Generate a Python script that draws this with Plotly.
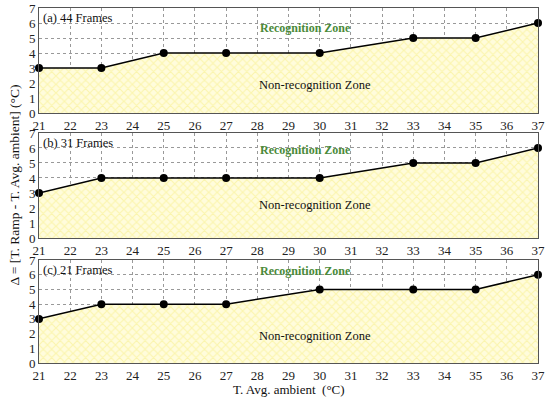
import plotly.graph_objects as go

x_vals = [21, 23, 25, 27, 30, 33, 35, 37]
delta_a = [3, 3, 4, 4, 4, 5, 5, 6]
delta_b = [3, 4, 4, 4, 4, 5, 5, 6]
delta_c = [3, 4, 4, 4, 5, 5, 5, 6]
panel_titles = ["(a) 44 Frames", "(b) 31 Frames", "(c) 21 Frames"]
x_ticks = list(range(21, 38))
y_ticks = list(range(0, 8))
rec_y = [5.65, 5.85, 6.25]
non_y = [1.9, 2.2, 1.85]

series = [delta_a, delta_b, delta_c]
# plot area: pixels 8..363 (355 px)
domains = [[0.704, 1.0], [0.352, 0.648], [0.0, 0.290]]

FONT = "Liberation Serif"
fig = go.Figure()
for i, ys in enumerate(series):
    xa = "x" if i == 0 else f"x{i+1}"
    ya = "y" if i == 0 else f"y{i+1}"
    fig.add_trace(go.Scatter(
        x=x_vals, y=ys, xaxis=xa, yaxis=ya, mode="lines+markers",
        line=dict(color="black", width=1.5),
        marker=dict(color="black", size=8),
        fill="tozeroy", fillcolor="#fffbd2",
        fillpattern=dict(shape="x", fgcolor="#f6ee80", bgcolor="#fffcdc", size=6, solidity=0.35),
        showlegend=False, hoverinfo="skip", cliponaxis=False))
    common_ax = dict(showline=True, linecolor="#555", linewidth=1, mirror=True,
                     showgrid=True, gridcolor="#999", griddash="dot", gridwidth=1,
                     zeroline=False, ticks="", automargin=False,
                     tickfont=dict(family=FONT, size=13, color="#222"))
    fig.update_layout(**{
        ("xaxis" if i == 0 else f"xaxis{i+1}"): dict(
            range=[21, 37], tickvals=x_ticks, anchor=ya, domain=[0, 1], **common_ax),
        ("yaxis" if i == 0 else f"yaxis{i+1}"): dict(
            range=[0, 7], tickvals=y_ticks, anchor=xa, domain=domains[i], **common_ax),
    })
    fig.add_annotation(x=21.08, y=6.95, xref=xa, yref=ya, text=panel_titles[i],
                       showarrow=False, xanchor="left", yanchor="top",
                       font=dict(family=FONT, size=12.5, color="#111"))
    fig.add_annotation(x=29.55, y=rec_y[i], xref=xa, yref=ya, text="<b>Recognition Zone</b>",
                       showarrow=False, font=dict(family=FONT, size=12, color="#4a8a3a"))
    fig.add_annotation(x=29.85, y=non_y[i], xref=xa, yref=ya, text="Non-recognition Zone",
                       showarrow=False, font=dict(family=FONT, size=12.5, color="#111"))

fig.add_annotation(x=-0.069, y=0.5, xref="paper", yref="paper",
                   text="Δ = [T. Ramp - T. Avg. ambient] (°C)", textangle=-90,
                   showarrow=False, font=dict(family=FONT, size=13.5, color="#111"))
fig.add_annotation(x=0.5, y=-0.075, xref="paper", yref="paper",
                   text="T. Avg. ambient  (°C)", showarrow=False, yanchor="middle",
                   font=dict(family=FONT, size=13, color="#111"))

fig.update_layout(width=550, height=399, margin=dict(l=39, r=12, t=8, b=36, autoexpand=False),
                  plot_bgcolor="white", paper_bgcolor="white")
fig.write_html("out.html", config={"displayModeBar": False},
               post_script="document.body.style.margin='0';document.body.style.overflow='hidden';")
